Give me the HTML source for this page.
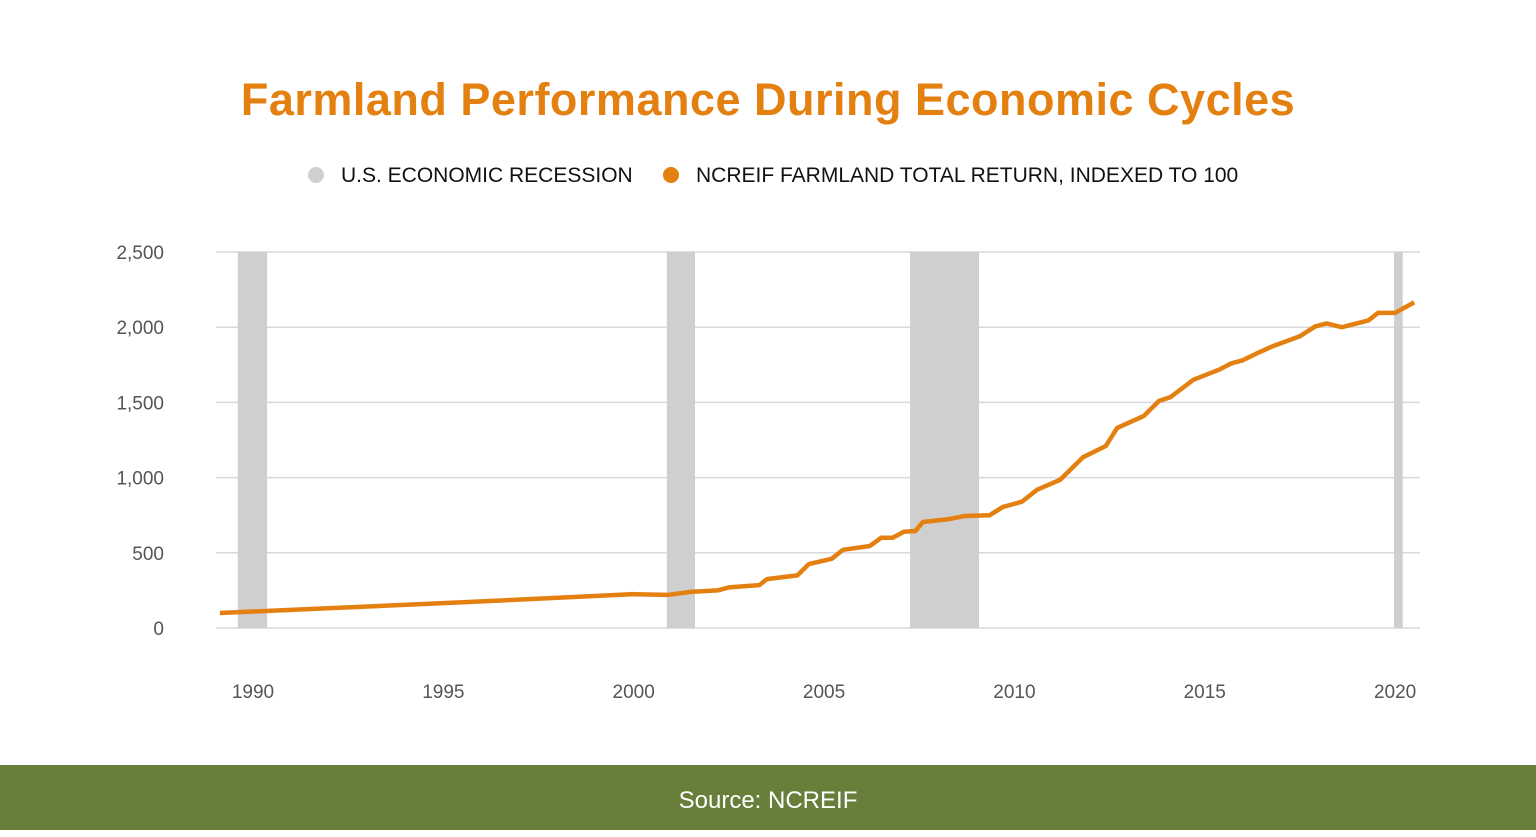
<!DOCTYPE html>
<html><head><meta charset="utf-8"><style>
body{margin:0;width:1536px;height:830px;background:#fff;font-family:"Liberation Sans",sans-serif;overflow:hidden;position:relative}
#title{position:absolute;left:0;width:1536px;top:74px;text-align:center;color:#e3800f;font-weight:bold;font-size:45px;letter-spacing:0.5px}
#footer{position:absolute;left:0;top:765px;width:1536px;height:65px;background:#677f3b;color:#fff;font-size:24px;text-align:center;line-height:72px}
svg{position:absolute;left:0;top:0}
</style></head><body>
<div id="title">Farmland Performance During Economic Cycles</div>
<svg id="chart" width="1536" height="765"></svg>
<div id="footer">Source: NCREIF</div>
<script>
const years=[1989.13,1995,2000,2000.9,2001.5,2002.2,2002.5,2003.3,2003.5,2004.3,2004.6,2005.2,2005.5,2006.2,2006.5,2006.8,2007.1,2007.4,2007.6,2008.3,2008.7,2009.35,2009.7,2010.2,2010.6,2011.2,2011.8,2012.4,2012.7,2013.4,2013.8,2014.1,2014.7,2015.4,2015.7,2016.0,2016.4,2016.8,2017.5,2017.9,2018.2,2018.6,2019.3,2019.55,2020.0,2020.5];
const values=[100,165,225,220,240,250,270,285,325,350,425,460,520,545,600,600,640,645,705,725,745,750,805,840,920,985,1135,1210,1330,1410,1510,1535,1650,1720,1760,1780,1830,1875,1940,2005,2025,2000,2045,2095,2095,2165];
const recessions=[[1989.6,1990.37],[2000.87,2001.61],[2007.26,2009.07],[2019.97,2020.2]];
const yTicks=[0,500,1000,1500,2000,2500];
const yTickLabels=["0","500","1,000","1,500","2,000","2,500"];
const xTicks=[1990,1995,2000,2005,2010,2015,2020];
const NS="http://www.w3.org/2000/svg";
const svg=document.getElementById('chart');
const X=y=>253+(y-1990)*38.07, Y=v=>628-v*0.1504;
function mk(t,a){const e=document.createElementNS(NS,t);for(const k in a)e.setAttribute(k,a[k]);svg.appendChild(e);return e;}
yTicks.forEach((v,i)=>{
 const l=mk('line',{x1:216,x2:1420,y1:Y(v),y2:Y(v),stroke:'#d9d9d9','stroke-width':1.5});
 
 
 const t=mk('text',{x:164,y:Y(v)+7,'text-anchor':'end','font-size':19,fill:'#555'});t.textContent=yTickLabels[i];
 
 
});
recessions.forEach(r=>{
 const b=mk('rect',{x:X(r[0]),y:Y(2500),width:X(r[1])-X(r[0]),height:Y(0)-Y(2500),fill:'#cfcfcf'});
 
 
});
xTicks.forEach(v=>{
 const t=mk('text',{x:X(v),y:698,'text-anchor':'middle','font-size':19,fill:'#555'});t.textContent=v;
 
 
});
const p=mk('polyline',{points:years.map((y,i)=>X(y)+','+Y(values[i])).join(' '),fill:'none',stroke:'#e3800f','stroke-width':4.5,'stroke-linejoin':'round'});


const c1=mk('circle',{cx:316,cy:175,r:8,fill:'#cfcfcf'});


const t1=mk('text',{x:341,y:182,'font-size':21,fill:'#111'});t1.textContent='U.S. ECONOMIC RECESSION';


const c2=mk('circle',{cx:671,cy:175,r:8,fill:'#e3800f'});


const t2=mk('text',{x:696,y:182,'font-size':21,fill:'#111'});t2.textContent='NCREIF FARMLAND TOTAL RETURN, INDEXED TO 100';


</script>
</body></html>
